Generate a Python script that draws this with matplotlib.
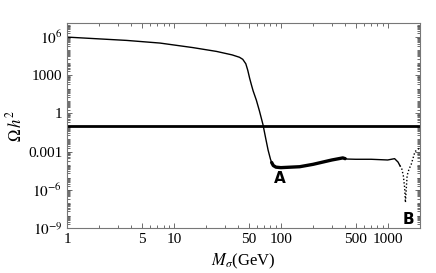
import numpy as np
import matplotlib
matplotlib.use('Agg')
import matplotlib.pyplot as plt
from matplotlib.ticker import FixedLocator, NullFormatter, LogLocator

# Relic abundance vs mass
mass = [1, 3.6, 7.4, 15, 25, 35, 41, 44, 47, 49, 51, 53, 55, 59, 63, 68, 72,
        76, 80, 82, 85, 90, 100, 150, 200, 300, 380, 420, 500, 700, 1000,
        1160, 1250, 1300]
omega = [1e6, 5.5e5, 3.4e5, 1.5e5, 7.5e4, 4e4, 2.6e4, 1.8e4, 8e3, 2.5e3,
         6e2, 1.8e2, 6e1, 1.1e1, 1.6, 1.35e-1, 1.2e-2, 1.3e-3, 2.5e-4,
         1.4e-4, 8e-5, 6e-5, 5.5e-5, 6.5e-5, 1e-4, 2.2e-4, 3.2e-4, 2.6e-4,
         2.5e-4, 2.5e-4, 2.2e-4, 2.8e-4, 1.5e-4, 8e-5]

# thick band region
band_mass = [82, 85, 90, 100, 150, 200, 300, 380, 400]
band_omega = [1.4e-4, 8e-5, 6e-5, 5.5e-5, 6.5e-5, 1e-4, 2.2e-4, 3.2e-4, 2.8e-4]

# dip near B (drawn dotted)
dip_mass = [1300, 1350, 1400, 1440, 1465, 1490, 1520, 1580, 1660, 1800, 2000]
dip_omega = [8e-5, 5e-5, 1.3e-5, 1.5e-6, 1e-7, 1e-6, 1.3e-5, 4e-5, 1e-4, 1e-3, 2e-3]

omega_obs = 0.11

plt.rcParams['font.family'] = ['Liberation Serif', 'DejaVu Serif']
plt.rcParams['mathtext.fontset'] = 'stix'

fig = plt.figure(figsize=(4.36, 2.73), dpi=100)
ax = fig.add_axes([0.154, 0.165, 0.809, 0.751])

ax.plot(mass, omega, color='black', lw=1.0)
ax.plot(band_mass, band_omega, color='black', lw=2.4, solid_capstyle='round')
ax.plot(dip_mass, dip_omega, color='black', lw=1.0, linestyle=(0, (1, 1.5)))
ax.axhline(omega_obs, color='black', lw=2.0)

ax.set_xscale('log')
ax.set_yscale('log')
ax.set_xlim(1, 2000)
ax.set_ylim(1e-9, 1.3e7)

xticks = [1, 5, 10, 50, 100, 500, 1000]
xlabels = ['1', '5', '10', '50', '100', '500', '1000']
ax.xaxis.set_major_locator(FixedLocator(xticks))
ax.set_xticklabels(xlabels)
ax.xaxis.set_minor_locator(LogLocator(base=10, subs=np.arange(2, 10)))
ax.xaxis.set_minor_formatter(NullFormatter())

yticks = [1e-9, 1e-6, 1e-3, 1, 1e3, 1e6]
ylabels = [r'$10^{-9}$', r'$10^{-6}$', '0.001', '1', '1000', r'$10^{6}$']
ax.yaxis.set_major_locator(FixedLocator(yticks))
ax.set_yticklabels(ylabels)
ax.yaxis.set_minor_locator(LogLocator(base=10, subs=np.arange(2, 10), numticks=30))
ax.yaxis.set_minor_formatter(NullFormatter())

ax.tick_params(which='both', direction='in', top=True, right=True,
               labelsize=11, color='#555555', width=0.6)
ax.tick_params(which='major', length=3.5)
ax.tick_params(which='minor', length=2)
for s in ax.spines.values():
    s.set_color('#777777')
    s.set_linewidth(0.8)

ax.set_xlabel(r'$M_\sigma$(GeV)', fontsize=12, labelpad=4)
ax.set_ylabel(r'$\Omega\, h^2$', fontsize=12, labelpad=2)

ax.text(98, 8e-6, 'A', fontsize=11, fontweight='bold', family='DejaVu Sans',
        ha='center', va='center')
ax.text(1560, 5e-9, 'B', fontsize=11, fontweight='bold', family='DejaVu Sans',
        ha='center', va='center')

fig.savefig('out.png', dpi=100)
